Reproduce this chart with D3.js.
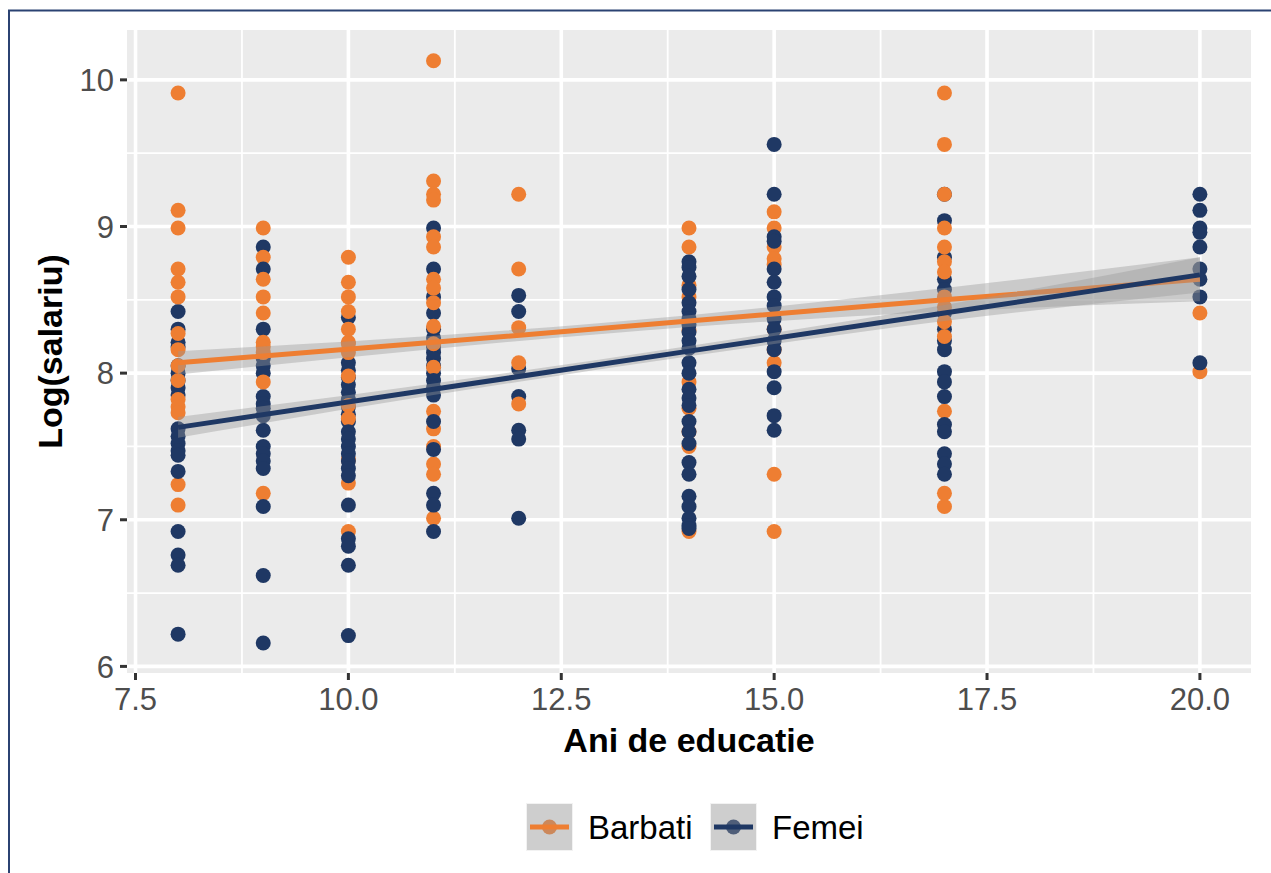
<!DOCTYPE html>
<html>
<head>
<meta charset="utf-8">
<script src="https://cdn.jsdelivr.net/npm/d3@7"></script>
<style>
  body { margin: 0; background: #fff; }
  svg { display: block; font-family: "Liberation Sans", Arial, sans-serif; }
</style>
</head>
<body>
<svg id="chart" width="1271" height="873"></svg>
<script>
/************
** data
*************/
var years = [8, 9, 10, 11, 12, 14, 15, 17, 20];

// log(salariu) per year of education, men
var barbatiLog = [
  [9.91, 9.11, 8.99, 8.71, 8.62, 8.52, 8.27, 8.16, 8.05, 7.95, 7.82, 7.77, 7.73, 7.24, 7.10],
  [8.99, 8.79, 8.64, 8.52, 8.41, 8.21, 8.18, 8.14, 7.94, 7.18],
  [8.79, 8.62, 8.52, 8.42, 8.30, 8.21, 8.20, 8.14, 7.98, 7.78, 7.69, 7.41, 7.25, 6.92],
  [10.13, 9.31, 9.22, 9.18, 8.93, 8.86, 8.64, 8.58, 8.48, 8.32, 8.20, 8.04, 7.74, 7.62, 7.50, 7.38, 7.31, 7.01],
  [9.22, 8.71, 8.31, 8.07, 7.79],
  [8.99, 8.86, 8.60, 8.52, 8.29, 7.94, 7.76, 7.60, 7.50, 6.92],
  [9.10, 8.99, 8.86, 8.78, 8.74, 8.30, 8.16, 8.07, 7.31, 6.92],
  [9.91, 9.56, 9.22, 8.99, 8.86, 8.76, 8.69, 8.52, 8.45, 8.35, 8.25, 7.74, 7.18, 7.09],
  [8.41, 8.01]
];

// log(salariu) per year of education, women
var femeiLog = [
  [8.42, 8.30, 8.21, 8.18, 8.05, 8.00, 7.95, 7.90, 7.85, 7.62, 7.57, 7.52, 7.47, 7.44, 7.33, 6.92, 6.76, 6.69, 6.22],
  [8.86, 8.71, 8.30, 8.10, 8.05, 8.00, 7.84, 7.79, 7.76, 7.71, 7.61, 7.50, 7.45, 7.40, 7.35, 7.09, 6.62, 6.16],
  [8.38, 8.07, 8.02, 7.97, 7.92, 7.87, 7.82, 7.77, 7.72, 7.67, 7.60, 7.55, 7.50, 7.45, 7.40, 7.35, 7.30, 7.10, 6.87, 6.82, 6.69, 6.21],
  [8.99, 8.71, 8.52, 8.41, 8.30, 8.24, 8.18, 8.14, 8.10, 8.05, 8.00, 7.95, 7.90, 7.85, 7.67, 7.48, 7.18, 7.10, 6.92],
  [8.53, 8.42, 8.03, 7.84, 7.61, 7.55, 7.01],
  [8.76, 8.72, 8.66, 8.57, 8.48, 8.42, 8.37, 8.33, 8.28, 8.22, 8.17, 8.07, 8.00, 7.89, 7.83, 7.78, 7.67, 7.60, 7.52, 7.39, 7.31, 7.16, 7.09, 7.01, 6.96, 6.94],
  [9.56, 9.22, 8.93, 8.90, 8.71, 8.62, 8.52, 8.46, 8.37, 8.30, 8.22, 8.16, 8.01, 7.90, 7.71, 7.61],
  [9.22, 9.04, 8.79, 8.64, 8.57, 8.41, 8.30, 8.22, 8.16, 8.01, 7.94, 7.84, 7.65, 7.60, 7.45, 7.38, 7.31],
  [9.22, 9.11, 8.99, 8.96, 8.86, 8.71, 8.64, 8.52, 8.07]
];

// fitted lines (lm) with confidence band half-widths
var smoothX = [8, 11, 14, 17, 20];
var barbatiFit = [8.07, 8.21, 8.355, 8.50, 8.64];
var barbatiSe = [0.08, 0.045, 0.04, 0.08, 0.15];
var femeiFit = [7.63, 7.89, 8.15, 8.41, 8.67];
var femeiSe = [0.07, 0.04, 0.035, 0.055, 0.12];

var xTicks = [7.5, 10, 12.5, 15, 17.5, 20];
var xMinor = [8.75, 11.25, 13.75, 16.25, 18.75];
var yTicks = [6, 7, 8, 9, 10];
var yMinor = [6.5, 7.5, 8.5, 9.5];

var groups = ["Barbati", "Femei"];

/************
** colors
*************/
var orange = "#EE7E32";
var navy = "#1F3864";
var panelBg = "#EBEBEB";
var tickText = "#4D4D4D";

/************
** layout
*************/
var svg = d3.select("#chart");
var panel = { left: 127, top: 30, right: 1251, bottom: 673 };

var x = d3.scaleLinear().domain([7.4, 20.6]).range([panel.left, panel.right]);
var y = d3.scaleLinear().domain([5.955, 10.34]).range([panel.bottom, panel.top]);

// outer frame
svg.append("rect")
  .attr("x", 9).attr("y", 10.5)
  .attr("width", 1300).attr("height", 900)
  .attr("fill", "none")
  .attr("stroke", "#2B4272")
  .attr("stroke-width", 2);

// panel + grid
svg.append("rect")
  .attr("x", panel.left).attr("y", panel.top)
  .attr("width", panel.right - panel.left)
  .attr("height", panel.bottom - panel.top)
  .attr("fill", panelBg);

var grid = svg.append("g");
grid.selectAll(".xminor").data(xMinor).enter().append("line")
  .attr("x1", d => x(d)).attr("x2", d => x(d))
  .attr("y1", panel.top).attr("y2", panel.bottom)
  .attr("stroke", "#fff").attr("stroke-width", 1.8);
grid.selectAll(".yminor").data(yMinor).enter().append("line")
  .attr("y1", d => y(d)).attr("y2", d => y(d))
  .attr("x1", panel.left).attr("x2", panel.right)
  .attr("stroke", "#fff").attr("stroke-width", 1.8);
grid.selectAll(".xmajor").data(xTicks).enter().append("line")
  .attr("x1", d => x(d)).attr("x2", d => x(d))
  .attr("y1", panel.top).attr("y2", panel.bottom)
  .attr("stroke", "#fff").attr("stroke-width", 3.6);
grid.selectAll(".ymajor").data(yTicks).enter().append("line")
  .attr("y1", d => y(d)).attr("y2", d => y(d))
  .attr("x1", panel.left).attr("x2", panel.right)
  .attr("stroke", "#fff").attr("stroke-width", 3.6);

/************
** points
*************/
var points = [];
years.forEach(function(yr, i) {
  var a = barbatiLog[i], b = femeiLog[i];
  var n = Math.max(a.length, b.length);
  for (var k = 0; k < n; k++) {
    if (k < a.length) points.push({ edu: yr, v: a[k], g: "Barbati" });
    if (k < b.length) points.push({ edu: yr, v: b[k], g: "Femei" });
  }
});

svg.append("g").selectAll("circle").data(points).enter().append("circle")
  .attr("cx", d => x(d.edu))
  .attr("cy", d => y(d.v))
  .attr("r", 7.5)
  .attr("fill", d => d.g === "Barbati" ? orange : navy);

/************
** smooths
*************/
function drawSmooth(fit, se, color) {
  var rows = smoothX.map((sx, i) => ({ x: sx, f: fit[i], s: se[i] }));
  var area = d3.area()
    .x(d => x(d.x))
    .y0(d => y(d.f - d.s))
    .y1(d => y(d.f + d.s))
    .curve(d3.curveMonotoneX);
  var line = d3.line().x(d => x(d.x)).y(d => y(d.f));
  svg.append("path").datum(rows)
    .attr("d", area)
    .attr("fill", "#999999").attr("fill-opacity", 0.4);
  svg.append("path").datum(rows)
    .attr("d", line)
    .attr("fill", "none")
    .attr("stroke", color).attr("stroke-width", 5);
}
drawSmooth(barbatiFit, barbatiSe, orange);
drawSmooth(femeiFit, femeiSe, navy);

/************
** axes
*************/
var yAxis = svg.append("g");
yAxis.selectAll("line").data(yTicks).enter().append("line")
  .attr("x1", panel.left - 7).attr("x2", panel.left)
  .attr("y1", d => y(d)).attr("y2", d => y(d))
  .attr("stroke", "#333").attr("stroke-width", 3);
yAxis.selectAll("text").data(yTicks).enter().append("text")
  .attr("x", 114).attr("y", d => y(d))
  .attr("dy", "0.36em")
  .attr("text-anchor", "end")
  .attr("font-size", 31)
  .attr("fill", tickText)
  .text(d => d);

var xAxis = svg.append("g");
xAxis.selectAll("line").data(xTicks).enter().append("line")
  .attr("x1", d => x(d)).attr("x2", d => x(d))
  .attr("y1", panel.bottom).attr("y2", panel.bottom + 7)
  .attr("stroke", "#333").attr("stroke-width", 3);
xAxis.selectAll("text").data(xTicks).enter().append("text")
  .attr("x", d => x(d)).attr("y", 710)
  .attr("text-anchor", "middle")
  .attr("font-size", 31)
  .attr("fill", tickText)
  .text(d => d3.format(".1f")(d));

svg.append("text")
  .attr("x", (panel.left + panel.right) / 2).attr("y", 752)
  .attr("text-anchor", "middle")
  .attr("font-size", 34).attr("font-weight", "bold")
  .attr("fill", "#000")
  .text("Ani de educatie");

svg.append("text")
  .attr("transform", "translate(62," + ((panel.top + panel.bottom) / 2) + ") rotate(-90)")
  .attr("text-anchor", "middle")
  .attr("font-size", 34).attr("font-weight", "bold")
  .attr("fill", "#000")
  .text("Log(salariu)");

/************
** legend
*************/
var legendX = [526, 710];
var legend = svg.append("g");
groups.forEach(function(name, i) {
  var color = i === 0 ? orange : navy;
  var g = legend.append("g").attr("transform", "translate(" + legendX[i] + ",803)");
  g.append("rect").attr("width", 47).attr("height", 48).attr("fill", "#F2F2F2");
  g.append("circle").attr("cx", 23.5).attr("cy", 24).attr("r", 7.5).attr("fill", color);
  g.append("rect").attr("x", 1).attr("y", 1).attr("width", 45).attr("height", 46)
    .attr("fill", "#999999").attr("fill-opacity", 0.4);
  g.append("line").attr("x1", 4).attr("x2", 43).attr("y1", 24).attr("y2", 24)
    .attr("stroke", color).attr("stroke-width", 5);
  g.append("text")
    .attr("x", 62).attr("y", 24).attr("dy", "0.36em")
    .attr("font-size", 33)
    .attr("fill", "#000")
    .text(name);
});
</script>
</body>
</html>
